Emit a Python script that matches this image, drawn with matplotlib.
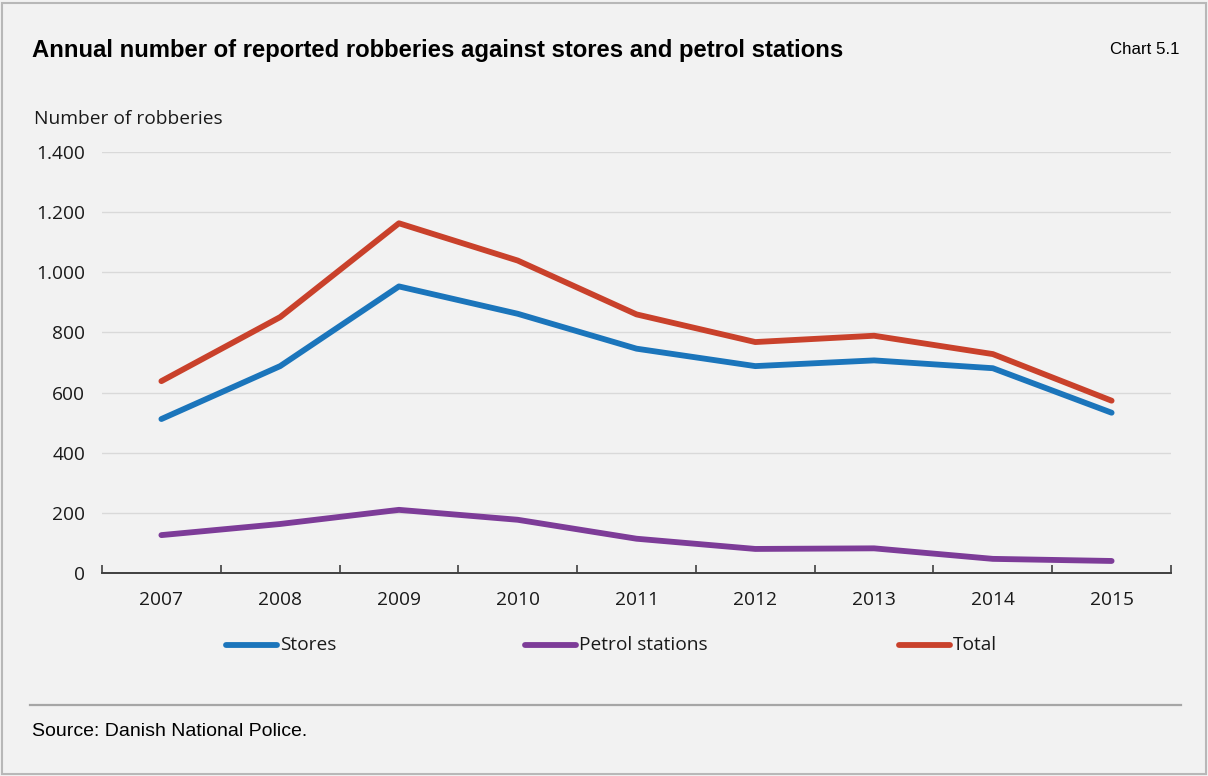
import matplotlib
matplotlib.use("Agg")
import matplotlib.pyplot as plt
from matplotlib.ticker import FuncFormatter, FixedLocator
from matplotlib.lines import Line2D
from matplotlib.patches import Rectangle

years = ["2007", "2008", "2009", "2010", "2011", "2012", "2013", "2014", "2015"]
stores = [512, 688, 953, 862, 746, 688, 707, 681, 533]
petrol = [126, 163, 210, 177, 114, 80, 82, 47, 40]
total = [638, 851, 1163, 1039, 860, 768, 789, 728, 573]

BG = "#f2f2f2"
BLUE = "#1b75bb"
PURPLE = "#7d3c98"
RED = "#c9412b"
LABEL_FONT = "Open Sans"
FS = 13.8

fig = plt.figure(figsize=(12.08, 7.76), dpi=100, facecolor=BG)
ax = fig.add_axes([102 / 1208, 1 - 573 / 776, (1171 - 102) / 1208, (573 - 152) / 776])
ax.set_facecolor(BG)

x = list(range(len(years)))
lw = 4.2
ax.plot(x, stores, color=BLUE, lw=lw, solid_capstyle="round", solid_joinstyle="round", zorder=3)
ax.plot(x, petrol, color=PURPLE, lw=lw, solid_capstyle="round", solid_joinstyle="round", zorder=3)
ax.plot(x, total, color=RED, lw=lw, solid_capstyle="round", solid_joinstyle="round", zorder=3)

ax.set_xlim(-0.5, len(years) - 0.5)
ax.set_ylim(0, 1400)
ax.set_yticks(range(0, 1401, 200))
ax.yaxis.set_major_formatter(FuncFormatter(lambda v, p: f"{int(v):,}".replace(",", ".")))
ax.grid(axis="y", color="#d9d9d9", lw=1, zorder=0)
ax.tick_params(axis="y", length=0, pad=12, labelsize=FS, labelcolor="#1a1a1a")

# category labels centred, tick marks on the boundaries
ax.set_xticks(x)
ax.set_xticklabels(years, fontsize=FS, color="#1a1a1a")
ax.tick_params(axis="x", which="major", length=0, pad=13)
ax.xaxis.set_minor_locator(FixedLocator([i - 0.5 for i in range(len(years) + 1)]))
ax.tick_params(axis="x", which="minor", direction="in", length=6, width=1.2, color="#404040")
for lbl in ax.get_xticklabels() + ax.get_yticklabels():
    lbl.set_fontfamily(LABEL_FONT)

for side in ["top", "right", "left"]:
    ax.spines[side].set_visible(False)
ax.spines["bottom"].set_color("#404040")
ax.spines["bottom"].set_linewidth(1.4)
ax.spines["bottom"].set_zorder(4)

# legend entries placed by hand along one row
legend = [("Stores", BLUE, 226), ("Petrol stations", PURPLE, 525), ("Total", RED, 899)]
ly = 1 - 645 / 776
for name, col, px in legend:
    fig.add_artist(Line2D([px / 1208, (px + 51) / 1208], [ly, ly], color=col, lw=lw,
                          solid_capstyle="round", transform=fig.transFigure))
    fig.text((px + 54) / 1208, ly, name, fontsize=FS, family=LABEL_FONT,
             color="#1a1a1a", va="center", ha="left")

fig.text(32 / 1208, 1 - 50 / 776, "Annual number of reported robberies against stores and petrol stations",
         fontsize=17.2, fontweight="bold", family="Liberation Sans", va="center", ha="left", color="black")
fig.text(1180 / 1208, 1 - 50 / 776, "Chart 5.1", fontsize=12.2, family="Liberation Sans",
         va="center", ha="right", color="black")
fig.text(34 / 1208, 1 - 119 / 776, "Number of robberies", fontsize=FS, family=LABEL_FONT,
         va="center", ha="left", color="#1a1a1a")

# footer rule and source note
fig.add_artist(Line2D([30 / 1208, 1181 / 1208], [1 - 705 / 776] * 2, color="#a6a6a6", lw=1.6,
                      transform=fig.transFigure))
fig.text(32 / 1208, 1 - 732 / 776, "Source: Danish National Police.", fontsize=14,
         family="Liberation Sans", va="center", ha="left", color="black")

# thin frame around the whole chart
fig.add_artist(Rectangle((2 / 1208, 2 / 776), 1204 / 1208, 771 / 776, transform=fig.transFigure,
                         fill=False, edgecolor="#b8b8b8", lw=1.5))

fig.savefig("out.png", dpi=100, facecolor=BG)
